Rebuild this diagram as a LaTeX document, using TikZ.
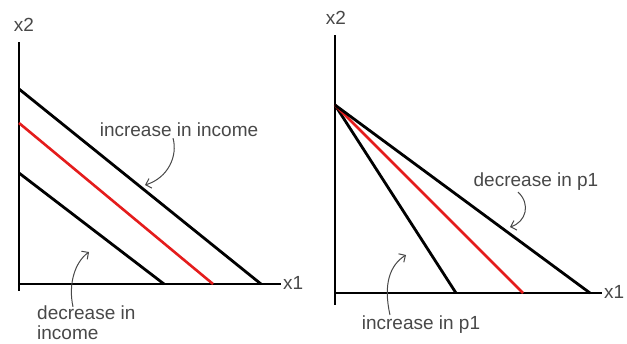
\documentclass[tikz,border=0pt]{standalone}
\usepackage{fontspec}
\setmainfont{Liberation Sans}
\usetikzlibrary{arrows.meta}
\definecolor{LabelGray}{RGB}{72,72,72}
\definecolor{BudgetRed}{RGB}{228,28,28}
\tikzset{
  axis/.style={draw=black,line width=2.2pt},
  budget/.style={draw=black,line width=2.8pt},
  base/.style={draw=BudgetRed,line width=2.6pt},
  note/.style={text=LabelGray,font=\fontsize{19}{20}\selectfont,inner sep=0pt,align=left},
  hint/.style={draw=LabelGray,line width=1pt,-{Straight Barb[length=5pt,width=10pt]}},
}
\begin{document}
\begin{tikzpicture}[x=1pt,y=-1pt]
\useasboundingbox (0,0) rectangle (627,343);
% left panel: income changes
\coordinate (o1) at (19,284);
\coordinate (ytop1) at (19,42);
\coordinate (ybot1) at (19,291);
\coordinate (xend1) at (281,284);
\coordinate (hi1) at (19,89);
\coordinate (hiX1) at (261,284);
\coordinate (mid1) at (19,123);
\coordinate (midX1) at (213,284);
\coordinate (lo1) at (19,173);
\coordinate (loX1) at (164,284);
\draw[axis] (ytop1) -- (ybot1);
\draw[axis] (o1) -- (xend1);
\draw[budget] (hi1) -- (hiX1);
\draw[base] (mid1) -- (midX1);
\draw[budget] (lo1) -- (loX1);
\node[note] (x2left) at (24,25) {x2};
\node[note,anchor=west] (x1left) at (283,283) {x1};
\node[note] (incIncome) at (179,130) {increase in income};
\node[note,anchor=west] (decIncome) at (37,323) {decrease in\\income};
\coordinate (incTip) at (145,185);
\coordinate (decTip) at (89,252);
\draw[hint] ([xshift=-6pt,yshift=-1pt]incIncome.south) .. controls (178,156) and (168,178) .. (incTip);
\draw[hint] ([xshift=36pt,yshift=-1pt]decIncome.north west) .. controls (68,284) and (75,262) .. (decTip);
% right panel: price of good 1 changes
\coordinate (o2) at (335,293);
\coordinate (ytop2) at (335,35);
\coordinate (ybot2) at (335,305);
\coordinate (xend2) at (602,293);
\coordinate (pivot) at (335,105);
\coordinate (steepX) at (456,293);
\coordinate (midX2) at (523,293);
\coordinate (flatX) at (590,293);
\draw[axis] (ytop2) -- (ybot2);
\draw[axis] (o2) -- (xend2);
\draw[budget] (pivot) -- (steepX);
\draw[base] (pivot) -- (midX2);
\draw[budget] (pivot) -- (flatX);
\node[note] (x2right) at (336,18) {x2};
\node[note,anchor=west] (x1right) at (604,292) {x1};
\node[note] (decPrice) at (536,182) {decrease in p1};
\node[note] (incPrice) at (421,325) {increase in p1};
\coordinate (decPTip) at (510,227);
\coordinate (incPTip) at (406,255);
\draw[hint] ([xshift=-18pt,yshift=-1pt]decPrice.south) .. controls (531,204) and (526,222) .. (decPTip);
\draw[hint] ([xshift=-31pt,yshift=1pt]incPrice.north) .. controls (383,284) and (390,265) .. (incPTip);
\end{tikzpicture}
\end{document}
